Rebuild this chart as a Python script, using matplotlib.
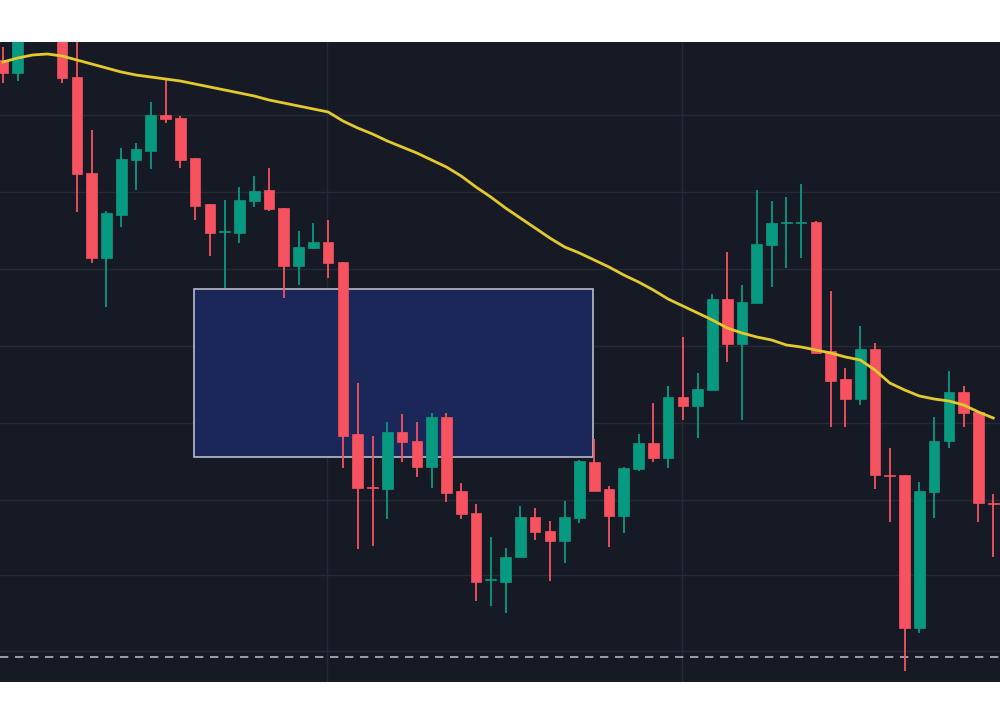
import matplotlib
matplotlib.use("Agg")
import matplotlib.pyplot as plt
import numpy as np
from matplotlib.patches import Rectangle

# values read as screen heights (price = 724 - pixel row)
open_y  = [60,73,38,25,30,77,173,258,215,160,151,115,118,158,204,232,233,201,190,208,266,248,242,262,434,487,489,432,441,467,417,491,513,580,582,557,517,531,541,518,462,489,516,469,443,458,397,406,390,299,344,303,245,223,223,222,351,379,399,349,475,475,628,492,441,392,412,503]
close_y = [73,38,25,32,78,174,258,213,159,149,115,119,160,206,233,232,200,191,209,266,247,242,263,436,488,488,432,442,467,417,493,514,582,580,557,517,532,541,517,461,491,516,468,443,458,397,406,389,299,344,302,244,223,223,223,353,381,399,349,475,476,628,491,441,392,413,503,504]
high_y  = [47,30,20,20,25,40,130,211,148,143,102,79,116,158,204,200,187,176,168,208,231,223,220,262,383,436,422,414,422,413,413,483,504,537,548,506,508,521,501,460,439,486,467,434,403,386,337,373,294,252,285,190,201,197,184,221,291,368,326,343,448,475,482,417,371,386,412,494]
low_y   = [83,81,40,38,83,212,263,307,227,190,169,123,168,220,256,288,243,207,211,298,285,249,278,468,549,546,519,462,477,488,502,519,601,606,613,557,540,581,563,523,491,547,533,471,462,468,420,438,390,362,420,303,287,268,258,353,427,427,405,489,522,671,633,518,448,427,522,557]
ma_y    = [62,58,55,54,56,60,64,68,72,75,77,79,81,84,87,90,93,96,100,103,106,109,112,121,128,134,141,147,153,160,167,176,187,197,208,218,228,238,247,253,260,267,275,282,290,299,306,313,320,328,333,337,340,345,347,350,353,357,360,370,383,390,396,399,401,405,412,418]
box_rows = (289, 457)
box_cols = (12.9, 39.9)   # candle index span
support_row = 657

H = 724
o, c, h, l, ma = (H - np.array(a, float) for a in (open_y, close_y, high_y, low_y, ma_y))
idx = np.arange(len(o))

fig = plt.figure(figsize=(10, 7.24), dpi=100)
fig.patch.set_facecolor("white")
ax = fig.add_axes([0, 42/724, 1, 640/724])
ax.set_facecolor("#161a25")
sp = 14.78
ax.set_xlim(-3/sp, 997/sp)
ax.set_ylim(H-682, H-42)
for yy in [115, 192, 269, 346, 423, 500, 575, 651]:
    ax.axhline(H-yy, color="#252a37", lw=1, zorder=0)
for xx in [327, 682]:
    ax.axvline((xx-3)/sp, color="#252a37", lw=1, zorder=0)

ax.add_patch(Rectangle((box_cols[0], H-box_rows[1]), box_cols[1]-box_cols[0], box_rows[1]-box_rows[0],
                       facecolor="#1b2659", edgecolor="#b8bcc8", lw=1.2, zorder=1))

up = "#089981"; dn = "#f7525f"
for i in idx:
    col = up if c[i] >= o[i] else dn
    ax.vlines(i, l[i], h[i], color=col, lw=1.3, zorder=3)
    lo, hi = min(o[i], c[i]), max(o[i], c[i])
    ax.add_patch(Rectangle((i-0.36, lo), 0.72, max(hi-lo, 1.2), facecolor=col, edgecolor=col, lw=0.5, zorder=4))

ax.plot(idx, ma, color="#e3c92a", lw=2, zorder=5)
ax.axhline(H-support_row, color="#b2b5be", lw=1.2, ls=(0, (5, 4)), zorder=2)

for s in ax.spines.values():
    s.set_visible(False)
ax.set_xticks([]); ax.set_yticks([])
fig.savefig("out.png", dpi=100)
